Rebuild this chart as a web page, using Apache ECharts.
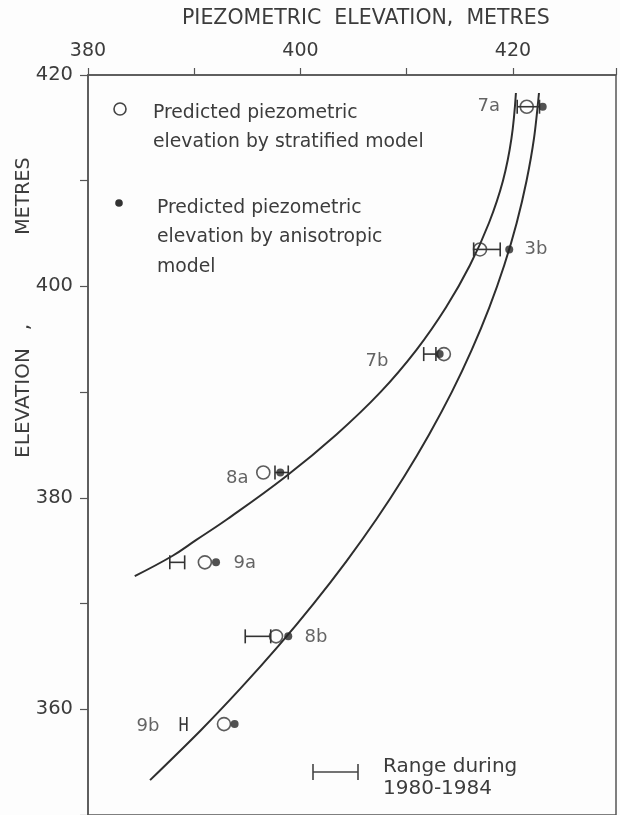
<!DOCTYPE html>
<html>
<head>
<meta charset="utf-8">
<script src="https://cdn.jsdelivr.net/npm/echarts@6/dist/echarts.min.js"></script>
<style>
  html, body { margin: 0; padding: 0; background: #fdfdfd; }
  #chart { width: 620px; height: 815px; }
</style>
</head>
<body>
<div id="chart"></div>
<script>
// ---- data ----
const wells = ['7a', '3b', '7b', '8a', '9a', '8b', '9b'];
const wellElevation = [417.0, 403.5, 393.6, 382.4, 373.9, 366.9, 358.6];
const stratifiedHead = [421.3, 416.9, 413.5, 396.5, 391.0, 397.7, 392.8];
const anisotropicHead = [422.8, 419.65, 413.1, 398.1, 392.05, 398.85, 393.8];
const rangeLow = [420.4, 416.3, 411.6, 397.6, 387.7, 394.8, 388.7];
const rangeHigh = [422.5, 418.8, 412.75, 398.85, 389.1, 397.2, 389.3];

// curves (piezometric elevation vs. elevation)
const stratCurveElev = [418.3, 414, 410, 406, 402, 398, 394, 390, 386, 382, 378, 376, 374.5, 372.6];
const stratCurveHead = [420.28, 419.86, 419.06, 417.74, 415.95, 413.69, 410.92, 407.53, 403.39, 398.59, 393.13, 390.16, 387.93, 384.4];
const anisoCurveElev = [418.3, 414, 410, 406, 402, 398, 394, 390, 386, 382, 378, 374, 370, 366, 362, 358, 353.3];
const anisoCurveHead = [422.45, 421.98, 421.28, 420.35, 419.18, 417.77, 416.12, 414.24, 412.11, 409.75, 407.16, 404.32, 401.24, 397.93, 394.38, 390.6, 385.84];

const xTickLabels = [380, 400, 420];
const yTickLabels = [360, 380, 400, 420];

// ---- styling (label placement relative to the open circle, px) ----
const labelOffset = {
  '7a': [-38, 0], '3b': [56, 0], '7b': [-67, 7], '8a': [-26, 6],
  '9a': [40, 1], '8b': [40, 1], '9b': [-76, 2]
};

const INK = '#2e2e2e';
const TEXT = '#3c3c3c';
const FONT = 'DejaVu Sans';

const chart = echarts.init(document.getElementById('chart'), null, { renderer: 'canvas' });

const zip = (xs, ys) => xs.map((x, i) => [x, ys[i]]);

const option = {
  backgroundColor: '#fdfdfd',
  animation: false,
  grid: {
    left: 88, top: 75, right: 4, bottom: -4,
    show: true, borderColor: '#555', borderWidth: 1.5, backgroundColor: 'transparent'
  },
  xAxis: {
    type: 'value', position: 'top', min: 380, max: 429.7, interval: 10,
    axisLine: { show: true, lineStyle: { color: '#555', width: 1.5 } },
    axisTick: { show: true, length: 7, lineStyle: { color: '#555', width: 1.2 } },
    axisLabel: {
      margin: 14, fontSize: 19, color: TEXT, fontFamily: FONT,
      formatter: v => xTickLabels.includes(v) ? String(v) : ''
    },
    splitLine: { show: false }
  },
  yAxis: {
    type: 'value', min: 350, max: 420, interval: 10,
    axisLine: { show: true, lineStyle: { color: '#555', width: 1.5 } },
    axisTick: { show: true, length: 8, lineStyle: { color: '#555', width: 1.2 } },
    axisLabel: {
      margin: 15, fontSize: 19.5, color: TEXT, fontFamily: FONT,
      formatter: v => yTickLabels.includes(v) ? String(v) : ''
    },
    splitLine: { show: false }
  },
  graphic: [
    { type: 'text', left: 182, top: 8,
      style: { text: 'PIEZOMETRIC  ELEVATION,  METRES', fill: TEXT, font: '20.5px "DejaVu Sans"' } },
    { type: 'text', x: 24, y: 403, rotation: Math.PI / 2,
      style: { text: 'ELEVATION', fill: TEXT, font: '20px "DejaVu Sans"', align: 'center', verticalAlign: 'middle' } },
    { type: 'text', x: 24, y: 327, rotation: Math.PI / 2,
      style: { text: ',', fill: TEXT, font: '20px "DejaVu Sans"', align: 'center', verticalAlign: 'middle' } },
    { type: 'text', x: 24, y: 196, rotation: Math.PI / 2,
      style: { text: 'METRES', fill: TEXT, font: '19px "DejaVu Sans"', align: 'center', verticalAlign: 'middle' } },
    // legend
    { type: 'circle', shape: { cx: 120, cy: 109, r: 6 }, style: { fill: 'none', stroke: '#444', lineWidth: 1.6 } },
    { type: 'text', x: 153, y: 109,
      style: { text: 'Predicted piezometric\nelevation by stratified model', fill: TEXT,
               font: '18.8px "DejaVu Sans"', lineHeight: 29, verticalAlign: 'top', y: -10 } },
    { type: 'circle', shape: { cx: 119, cy: 203, r: 3.8 }, style: { fill: '#333' } },
    { type: 'text', x: 157, y: 203,
      style: { text: 'Predicted piezometric\nelevation by anisotropic\nmodel', fill: TEXT,
               font: '18.8px "DejaVu Sans"', lineHeight: 29.5, verticalAlign: 'top', y: -10 } },
    { type: 'group', children: [
      { type: 'line', shape: { x1: 313, y1: 772, x2: 358, y2: 772 }, style: { stroke: '#444', lineWidth: 1.6 } },
      { type: 'line', shape: { x1: 313, y1: 764, x2: 313, y2: 780 }, style: { stroke: '#444', lineWidth: 1.6 } },
      { type: 'line', shape: { x1: 358, y1: 764, x2: 358, y2: 780 }, style: { stroke: '#444', lineWidth: 1.6 } }
    ] },
    { type: 'text', x: 383, y: 768,
      style: { text: 'Range during\n1980-1984', fill: TEXT, font: '20px "DejaVu Sans"',
               lineHeight: 22, verticalAlign: 'top', y: -12 } }
  ],
  series: [
    {
      name: 'stratified curve', type: 'line', data: zip(stratCurveHead, stratCurveElev),
      smooth: 0.4, symbol: 'none', lineStyle: { color: INK, width: 2 }, z: 2
    },
    {
      name: 'anisotropic curve', type: 'line', data: zip(anisoCurveHead, anisoCurveElev),
      smooth: 0.3, symbol: 'none', lineStyle: { color: INK, width: 2 }, z: 2
    },
    {
      name: 'range 1980-1984', type: 'custom',
      data: wells.map((w, i) => [rangeLow[i], rangeHigh[i], wellElevation[i]]),
      encode: { x: [0, 1], y: 2 },
      renderItem: (params, api) => {
        const lo = api.coord([api.value(0), api.value(2)]);
        const hi = api.coord([api.value(1), api.value(2)]);
        const h = 7;
        const st = { stroke: '#333', lineWidth: 1.6 };
        return { type: 'group', children: [
          { type: 'line', shape: { x1: lo[0], y1: lo[1], x2: hi[0], y2: hi[1] }, style: st },
          { type: 'line', shape: { x1: lo[0], y1: lo[1] - h, x2: lo[0], y2: lo[1] + h }, style: st },
          { type: 'line', shape: { x1: hi[0], y1: hi[1] - h, x2: hi[0], y2: hi[1] + h }, style: st }
        ] };
      },
      z: 3
    },
    {
      name: 'stratified model', type: 'scatter',
      data: wells.map((w, i) => ({
        value: [stratifiedHead[i], wellElevation[i]],
        label: { offset: labelOffset[w] }
      })),
      symbol: 'circle', symbolSize: 13,
      itemStyle: { color: 'rgba(0,0,0,0)', borderColor: '#333', borderWidth: 1.6 },
      label: {
        show: true, position: 'inside', fontSize: 18, color: TEXT, fontFamily: FONT,
        formatter: p => wells[p.dataIndex]
      },
      z: 4
    },
    {
      name: 'anisotropic model', type: 'scatter',
      data: wells.map((w, i) => [anisotropicHead[i], wellElevation[i]]),
      symbol: 'circle', symbolSize: 8,
      itemStyle: { color: '#262626' },
      z: 5
    }
  ]
};
chart.setOption(option);
</script>
</body>
</html>
